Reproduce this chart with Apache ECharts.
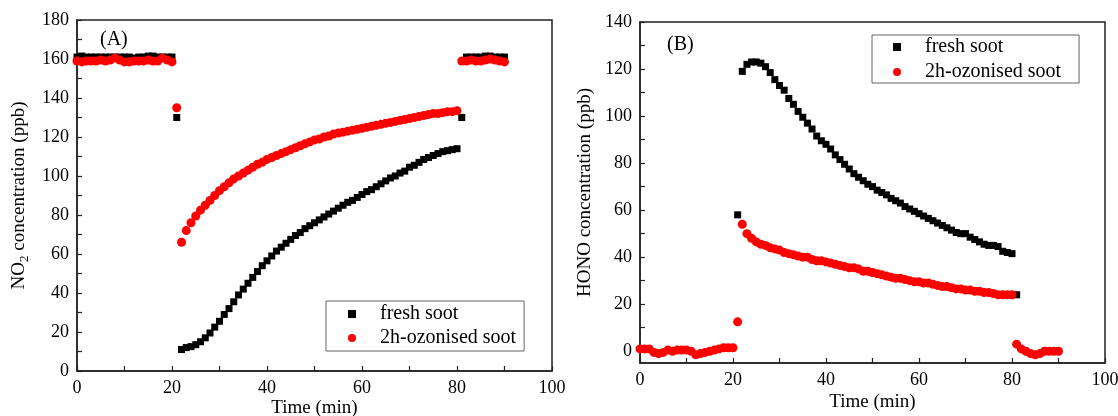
<!DOCTYPE html>
<html>
<head>
<meta charset="utf-8">
<script src="https://cdn.jsdelivr.net/npm/echarts@6/dist/echarts.min.js"></script>
<style>
  html, body { margin: 0; padding: 0; background: #fff; }
  #chart { width: 1118px; height: 416px; }
</style>
</head>
<body>
<div id="chart"></div>
<script>
// time in minutes, one reading per minute (index = minute)
const minutes = Array.from({ length: 91 }, (_, i) => i);

// (A) NO2 concentration (ppb)
const no2Fresh = [
  161, 161.5, 161, 161, 161, 161, 161, 161, 161, 161,
  161, 161, 160.5, 161, 161, 161.5, 161.5, 161, 161, 161,
  161, 130, 11, 12, 12.5, 13.5, 15, 17, 19.5, 22.5,
  25.5, 29, 32, 35.5, 39, 42, 45, 48, 51, 54,
  56.5, 59, 61.5, 63.5, 65.5, 67.5, 69.5, 71, 73, 74.5,
  76, 77.5, 79, 80.5, 82, 83.5, 85, 86.5, 87.5, 89,
  90.5, 92, 93, 94.5, 96, 97.5, 99, 100, 101.5, 102.5,
  104.5, 105.5, 107, 108.5, 109.5, 110.5, 111.5, 112.5, 113, 113.5,
  114, 130, 161, 161, 161, 161, 161.5, 161.5, 161, 161,
  161
];
const no2Ozonised = [
  159, 158.5, 159, 159, 159, 159.5, 159, 159.5, 160.5, 159.5,
  158.5, 158.5, 159, 159, 159, 159.5, 159, 159, 160.5, 159.5,
  158.5, 135, 66, 72, 76, 79.5, 82.5, 85, 87.5, 90,
  92.5, 94.5, 96.5, 98.5, 100, 101.5, 103, 104.5, 106, 107,
  108.5, 109.5, 110.5, 111.5, 112.5, 113.5, 114.5, 115.5, 116.5, 117.5,
  118.5, 119, 120, 120.5, 121.5, 122, 122.5, 123, 123.5, 124,
  124.5, 125, 125.5, 126, 126.5, 127, 127.5, 128, 128.5, 129,
  129.5, 130, 130.5, 131, 131.5, 132, 132, 132.5, 133, 133,
  133.5, 159, 159, 159.5, 159, 159, 159.5, 160, 159.5, 159,
  158.5
];

// (B) HONO concentration (ppb)
const honoFresh = [
  null, null, null, null, null, null, null, null, null, null,
  null, null, null, null, null, null, null, null, null, null,
  null, 58, 119, 122, 123, 123, 122.5, 121, 118.5, 115.5,
  113, 111, 107.5, 105, 102, 99.5, 97, 94.5, 91.5, 89.5,
  88, 86, 83.5, 81.5, 79.5, 77.5, 75.5, 74, 72.5, 71,
  70, 68.5, 67.5, 66.5, 65, 64, 63, 61.5, 60.5, 59.5,
  58.5, 57.5, 56.5, 55.5, 54.5, 53.5, 52.5, 51.5, 50.5, 50,
  50, 48.5, 47.5, 46.5, 45.5, 45, 45, 44.5, 42.5, 42,
  41.5, 24, null, null, null, null, null, null, null, null,
  null
];
const honoOzonised = [
  1, 1, 1, -0.5, -1, -0.5, 0.5, 0, 0.5, 0.5,
  0.5, 0, -1.5, -1, -0.5, 0, 0.5, 1, 1.5, 1.5,
  1.5, 12.5, 54, 50, 48, 46.5, 45.5, 45, 44, 43.5,
  43, 42, 41.5, 41, 40.5, 40, 40, 39, 38.5, 38.5,
  38, 37.5, 37, 36.5, 36, 35.5, 35.5, 35, 34, 34,
  33.5, 33, 32.5, 32, 31.5, 31, 31, 30.5, 30, 29.5,
  29.5, 29, 29, 28.5, 28, 27.5, 27.5, 27, 26.5, 26.5,
  26, 26, 25.5, 25.5, 25, 25, 24.5, 24, 24, 24,
  24, 3, 1, 0, -1, -1.5, -1, 0, 0, 0,
  0
];

const honoLabelTicks = [0, 20, 40, 60, 80, 100, 120, 140];
const honoMinorTicks = [0, 10, 20, 30, 40, 50, 60, 70, 80, 90, 100, 110, 120, 130, 140];

const seriesNames = ["fresh soot", "2h-ozonised soot"];

const FONT = "Liberation Serif";

function pairs(values) {
  return values
    .map((v, i) => (v == null ? null : [minutes[i], v]))
    .filter((p) => p !== null);
}

const axisLine = { onZero: false, lineStyle: { color: "#222", width: 1.5 } };
const tick = { inside: true, length: 5, lineStyle: { color: "#222", width: 1.2 } };
const minor = { show: true, splitNumber: 2, length: 5, lineStyle: { color: "#222", width: 1.2 } };
const label = { fontSize: 18, color: "#000", fontFamily: FONT, margin: 8 };

function xAxis(gridIndex, gap, margin) {
  return {
    gridIndex: gridIndex,
    type: "value",
    min: 0,
    max: 100,
    interval: 20,
    axisLine: axisLine,
    axisTick: tick,
    minorTick: minor,
    splitLine: { show: false },
    minorSplitLine: { show: false },
    axisLabel: Object.assign({}, label, { margin: margin }),
    name: "Time (min)",
    nameLocation: "middle",
    nameGap: gap,
    nameMoveOverlap: false,
    nameTextStyle: { fontSize: 19, color: "#000", fontFamily: FONT },
  };
}

// small square icon, text pushed right by its own padding
const legendBase = {
  orient: "vertical",
  itemWidth: 8,
  itemHeight: 8,
  borderColor: "#666",
  borderWidth: 1,
  borderRadius: 0,
  textStyle: { fontSize: 20, color: "#000", fontFamily: FONT, padding: [0, 0, 0, 19] },
  data: [
    { name: seriesNames[0], icon: "rect" },
    { name: seriesNames[1], icon: "circle" },
  ],
};

const chart = echarts.init(document.getElementById("chart"));

chart.setOption({
  animation: false,
  backgroundColor: "#fff",
  title: [
    {
      text: "(A)",
      left: 95,
      top: 25,
      textStyle: { fontSize: 20, fontWeight: "normal", color: "#000", fontFamily: FONT },
    },
    {
      text: "(B)",
      left: 662,
      top: 30,
      textStyle: { fontSize: 20, fontWeight: "normal", color: "#000", fontFamily: FONT },
    },
  ],
  legend: [
    Object.assign({}, legendBase, {
      left: 326,
      top: 301,
      padding: [3, 8, 3, 22],
      itemGap: 4,
    }),
    Object.assign({}, legendBase, {
      left: 872,
      top: 35,
      padding: [2, 18, 1, 21],
      itemGap: 5,
    }),
  ],
  grid: [
    {
      left: 77, top: 20, width: 475, height: 351, outerBoundsMode: "none",
      show: true, borderColor: "#222", borderWidth: 1.5, backgroundColor: "transparent",
    },
    {
      left: 640, top: 22, width: 465, height: 341, outerBoundsMode: "none",
      show: true, borderColor: "#222", borderWidth: 1.5, backgroundColor: "transparent",
    },
  ],
  xAxis: [xAxis(0, 28, 8), xAxis(1, 30, 8)],
  yAxis: [
    {
      gridIndex: 0,
      type: "value",
      min: 0,
      max: 180,
      interval: 20,
      axisLine: axisLine,
      axisTick: tick,
      minorTick: minor,
      splitLine: { show: false },
      minorSplitLine: { show: false },
      axisLabel: label,
      name: "{n|NO}{s|2}{n| concentration (ppb)}",
      nameLocation: "middle",
      nameGap: 46,
      nameRotate: 90,
      nameMoveOverlap: false,
      nameTextStyle: {
        fontSize: 19,
        color: "#000",
        fontFamily: FONT,
        rich: {
          n: { fontSize: 19, fontFamily: FONT, color: "#000" },
          s: { fontSize: 13, fontFamily: FONT, color: "#000", padding: [10, 0, 0, 0] },
        },
      },
    },
    {
      gridIndex: 1,
      type: "value",
      min: -5,
      max: 140,
      axisLine: axisLine,
      axisTick: Object.assign({}, tick, { customValues: honoMinorTicks }),
      splitLine: { show: false },
      axisLabel: Object.assign({}, label, { customValues: honoLabelTicks }),
      name: "HONO concentration (ppb)",
      nameLocation: "middle",
      nameGap: 45,
      nameRotate: 90,
      nameMoveOverlap: false,
      nameTextStyle: { fontSize: 19, color: "#000", fontFamily: FONT },
    },
  ],
  series: [
    {
      name: seriesNames[0],
      type: "scatter",
      xAxisIndex: 0,
      yAxisIndex: 0,
      symbol: "rect",
      symbolSize: 7,
      itemStyle: { color: "#000", opacity: 1 },
      data: pairs(no2Fresh),
    },
    {
      name: seriesNames[1],
      type: "scatter",
      xAxisIndex: 0,
      yAxisIndex: 0,
      symbol: "circle",
      symbolSize: 9,
      itemStyle: { color: "#ff0000", opacity: 1 },
      data: pairs(no2Ozonised),
    },
    {
      name: seriesNames[0],
      type: "scatter",
      xAxisIndex: 1,
      yAxisIndex: 1,
      symbol: "rect",
      symbolSize: 7,
      itemStyle: { color: "#000", opacity: 1 },
      data: pairs(honoFresh),
    },
    {
      name: seriesNames[1],
      type: "scatter",
      xAxisIndex: 1,
      yAxisIndex: 1,
      symbol: "circle",
      symbolSize: 9,
      itemStyle: { color: "#ff0000", opacity: 1 },
      data: pairs(honoOzonised),
    },
  ],
});
</script>
</body>
</html>
